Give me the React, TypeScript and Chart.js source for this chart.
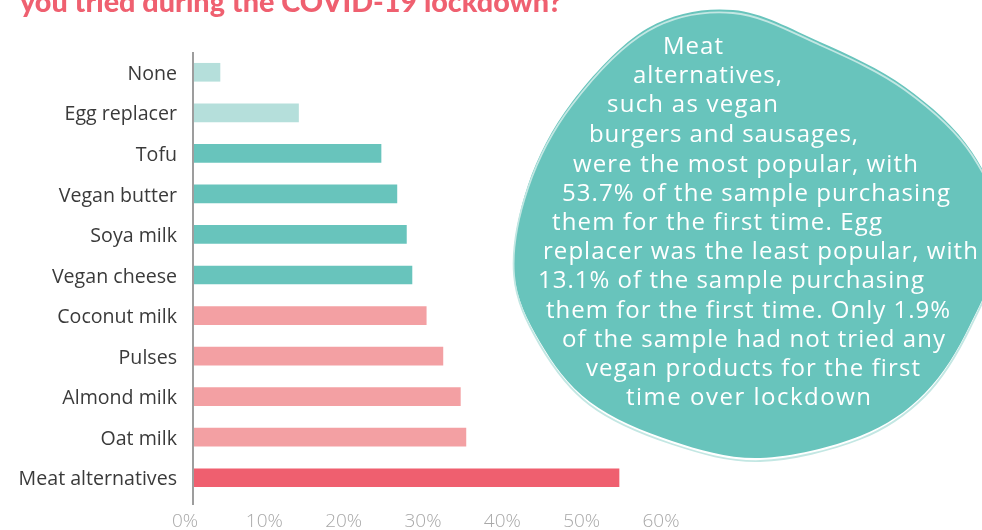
import React, { useEffect, useRef } from "react";
import { Chart, registerables } from "chart.js";

Chart.register(...registerables);

const categories = [
  "None",
  "Egg replacer",
  "Tofu",
  "Vegan butter",
  "Soya milk",
  "Vegan cheese",
  "Coconut milk",
  "Pulses",
  "Almond milk",
  "Oat milk",
  "Meat alternatives",
];
const values = [3.4, 13.3, 23.7, 25.7, 26.9, 27.6, 29.4, 31.5, 33.7, 34.4, 53.7];
const barColors = [
  "#b5dfdb",
  "#b5dfdb",
  "#68c4bc",
  "#68c4bc",
  "#68c4bc",
  "#68c4bc",
  "#f3a0a3",
  "#f3a0a3",
  "#f3a0a3",
  "#f3a0a3",
  "#ef5f6f",
];
const xTickValues = [0, 10, 20, 30, 40, 50, 60];
const titleText = "you tried during the COVID-19 lockdown?";
const noteLines = [
  "Meat",
  "alternatives,",
  "such as vegan",
  "burgers and sausages,",
  "were the most popular, with",
  "53.7% of the sample purchasing",
  "them for the first time. Egg",
  "replacer was the least popular, with",
  "13.1% of the sample purchasing",
  "them for the first time. Only 1.9%",
  "of the sample had not tried any",
  "vegan products for the first",
  "time over lockdown",
];
const noteLeft = [663, 633, 607, 589, 573, 562, 552, 543, 538, 546, 562, 586, 626];
const noteWidths = [60, 149, 171, 269, 345, 388, 330, 435, 386, 404, 383, 334, 245];
const noteBaselines = [54, 83, 112, 142, 172, 201, 230, 259, 288, 318, 347, 376, 405];

const blobPts: [number, number][] = [
  [733, 10],
  [820, 42],
  [905, 87],
  [972, 152],
  [1002, 235],
  [970, 325],
  [925, 393],
  [860, 436],
  [760, 458],
  [672, 441],
  [590, 402],
  [540, 342],
  [514, 272],
  [528, 185],
  [572, 102],
  [648, 28],
];

function blobPath(dx: number, dy: number) {
  const p = new Path2D();
  const n = blobPts.length;
  const pt = (i: number) => blobPts[(i + n) % n];
  p.moveTo(pt(0)[0] + dx, pt(0)[1] + dy);
  for (let i = 0; i < n; i++) {
    const p0 = pt(i - 1), p1 = pt(i), p2 = pt(i + 1), p3 = pt(i + 2);
    const c1x = p1[0] + (p2[0] - p0[0]) / 6;
    const c1y = p1[1] + (p2[1] - p0[1]) / 6;
    const c2x = p2[0] - (p3[0] - p1[0]) / 6;
    const c2y = p2[1] - (p3[1] - p1[1]) / 6;
    p.bezierCurveTo(c1x + dx, c1y + dy, c2x + dx, c2y + dy, p2[0] + dx, p2[1] + dy);
  }
  p.closePath();
  return p;
}

const decorPlugin = {
  id: "decor",
  afterDraw(chart: any) {
    const ctx = chart.ctx as CanvasRenderingContext2D;
    const area = chart.chartArea;
    ctx.save();
    // axis line
    ctx.strokeStyle = "#9d9d9d";
    ctx.lineWidth = 2;
    ctx.beginPath();
    ctx.moveTo(area.left, area.top);
    ctx.lineTo(area.left, area.bottom + 7);
    ctx.stroke();

    // title (second line of a cropped title)
    ctx.fillStyle = "#ef6070";
    ctx.textAlign = "left";
    ctx.textBaseline = "alphabetic";
    ctx.font = "900 27px Lato";
    const w = ctx.measureText(titleText).width;
    const size = 27 * (542 / w);
    ctx.font = `900 ${size.toFixed(2)}px Lato`;
    ctx.fillText(titleText, 20, 12);

    // blob
    ctx.fillStyle = "#68c4bc";
    ctx.fill(blobPath(0, 0));
    ctx.strokeStyle = "#c3e7e3";
    ctx.lineWidth = 1.8;
    ctx.stroke(blobPath(0, 3));

    // note text
    ctx.fillStyle = "#ffffff";
    ctx.textAlign = "left";
    ctx.font = "400 24px 'Open Sans'";
    noteLines.forEach((line, i) => {
      (ctx as any).letterSpacing = "0px";
      const mw = ctx.measureText(line).width;
      const ls = (noteWidths[i] - mw) / Math.max(1, line.length - 1);
      (ctx as any).letterSpacing = `${ls.toFixed(2)}px`;
      ctx.fillText(line, noteLeft[i], noteBaselines[i]);
    });
    (ctx as any).letterSpacing = "0px";
    ctx.restore();
  },
};

export default function App() {
  const canvasRef = useRef<HTMLCanvasElement | null>(null);

  useEffect(() => {
    document.body.style.margin = "0";
    const canvas = canvasRef.current;
    if (!canvas) return;
    const chart = new Chart(canvas, {
      type: "bar",
      data: {
        labels: categories,
        datasets: [
          {
            data: values,
            backgroundColor: barColors,
            borderWidth: 0,
            barThickness: 18,
          },
        ],
      },
      options: {
        indexAxis: "y",
        animation: false,
        responsive: true,
        maintainAspectRatio: false,
        layout: { padding: { top: 52, right: 313, bottom: 0, left: 0 } },
        plugins: {
          legend: { display: false },
          tooltip: { enabled: false },
          title: { display: false },
        },
        scales: {
          x: {
            min: 0,
            max: 60,
            afterBuildTicks: (scale: any) => {
              scale.ticks = xTickValues.map((v) => ({ value: v }));
            },
            afterFit: (scale: any) => {
              scale.height = 32;
            },
            grid: { display: false, drawTicks: false },
            border: { display: false },
            ticks: {
              padding: 12,
              labelOffset: -8,
              color: "#a8a8a8",
              font: { family: "'Open Sans'", size: 19, weight: 300 },
              callback: (v: any) => `${v}%`,
            },
          },
          y: {
            afterFit: (scale: any) => {
              scale.width = 193;
            },
            grid: { display: false, drawTicks: false },
            border: { display: false },
            ticks: {
              padding: 16,
              labelOffset: 2,
              color: "#3a3a3a",
              font: { family: "'Open Sans'", size: 19.6, weight: 400 },
            },
          },
        },
      },
      plugins: [decorPlugin],
    });
    return () => chart.destroy();
  }, []);

  return (
    <div style={{ position: "absolute", left: 0, top: 0, width: 982, height: 530, background: "#fff" }}>
      <canvas ref={canvasRef} />
    </div>
  );
}
